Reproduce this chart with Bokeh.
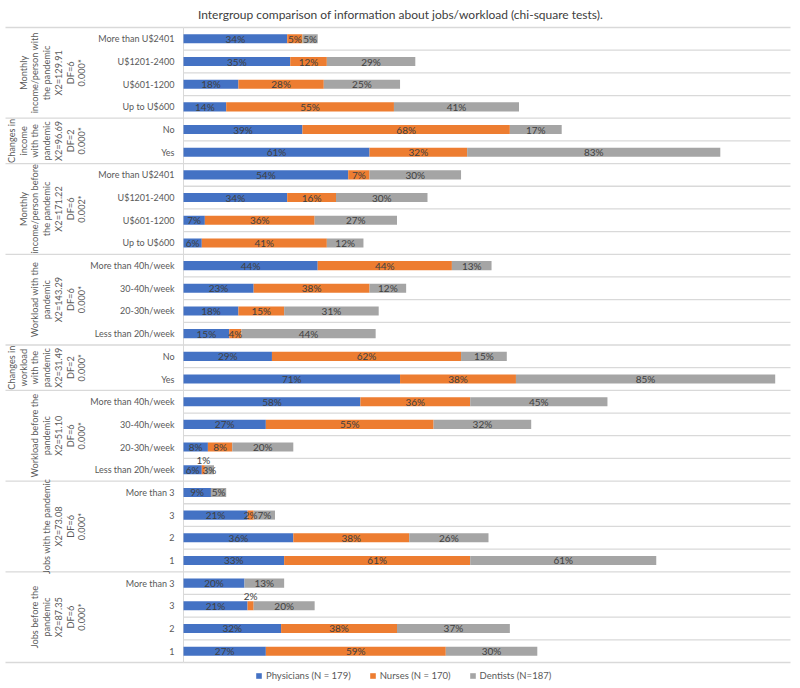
import numpy as np
from bokeh.plotting import figure
from bokeh.models import Range1d, ColumnDataSource, Legend, LegendItem
from bokeh.core.properties import value
from bokeh.embed import file_html
from bokeh.resources import INLINE

title_text = "Intergroup comparison of information about jobs/workload (chi-square tests)."

group_labels = [
    "Monthly\nincome/person with\nthe pandemic\nX2=129.91\nDF=6\n0.000*",
    "Changes in\nincome\nwith the\npandemic\nX2=96.69\nDF=2\n0.000*",
    "Monthly\nincome/person before\nthe pandemic\nX2=171.22\nDF=6\n0.002*",
    "Workload with the\npandemic\nX2=143.29\nDF=6\n0.000*",
    "Changes in\nworkload\nwith the\npandemic\nX2=31.49\nDF=2\n0.000*",
    "Workload before the\npandemic\nX2=51.10\nDF=6\n0.000*",
    "Jobs with the pandemic\nX2=73.08\nDF=6\n0.000*",
    "Jobs before the\npandemic\nX2=87.35\nDF=6\n0.000*",
]
group_sizes = [4, 2, 4, 4, 2, 4, 4, 4]

# categories, top to bottom
categories = [
    "More than U$2401", "U$1201-2400", "U$601-1200", "Up to U$600",
    "No", "Yes",
    "More than U$2401", "U$1201-2400", "U$601-1200", "Up to U$600",
    "More than 40h/week", "30-40h/week", "20-30h/week", "Less than 20h/week",
    "No", "Yes",
    "More than 40h/week", "30-40h/week", "20-30h/week", "Less than 20h/week",
    "More than 3", "3", "2", "1",
    "More than 3", "3", "2", "1",
]
physicians = [34, 35, 18, 14, 39, 61, 54, 34, 7, 6, 44, 23, 18, 15, 29, 71,
              58, 27, 8, 6, 9, 21, 36, 33, 20, 21, 32, 27]
nurses = [5, 12, 28, 55, 68, 32, 7, 16, 36, 41, 44, 38, 15, 4, 62, 38,
          36, 55, 8, 1, 0, 2, 38, 61, 0, 2, 38, 59]
dentists = [5, 29, 25, 41, 17, 83, 30, 30, 27, 12, 13, 12, 31, 44, 15, 85,
            45, 32, 20, 3, 5, 7, 26, 61, 13, 20, 37, 30]

series_names = ["Physicians (N = 179)", "Nurses (N = 170)", "Dentists (N=187)"]
series_colors = ["#4472C4", "#ED7D31", "#A5A5A5"]

# labels drawn above their bar (row index, series index)
labels_above = [(19, 1), (25, 1)]

FONT = "Lato"
n_rows = len(categories)
PXX = 3.05      # px per percent
PXY = 22.68     # px per row
W, H = 800, 688
x0_px = 183
x_start, x_end = -x0_px / PXX, (W - x0_px) / PXX
grid_end = (790 - x0_px) / PXX
sep_start = (5 - x0_px) / PXX
top_px, bot_px = 27, 662
y_end = n_rows + top_px / PXY
y_start = -(H - bot_px) / PXY

p = figure(width=W, height=H, output_backend="svg", toolbar_location=None,
           x_range=Range1d(x_start, x_end), y_range=Range1d(y_start, y_end),
           x_axis_location=None, y_axis_location=None, min_border=0)
p.title.visible = False
p.outline_line_color = None
p.grid.visible = False

centers = np.array([n_rows - i - 0.5 for i in range(n_rows)])

# gridlines at every row boundary (plot area)
bounds = np.arange(n_rows + 1)
p.segment(x0=np.zeros(len(bounds)), x1=np.full(len(bounds), grid_end),
          y0=bounds, y1=bounds, line_color="#D9D9D9", line_width=1.3)
# group separators across the label area
gb = n_rows - np.concatenate([[0], np.cumsum(group_sizes)])
p.segment(x0=np.full(len(gb), sep_start), x1=np.zeros(len(gb)),
          y0=gb, y1=gb, line_color="#D9D9D9", line_width=1.3)
# vertical axis line
p.segment(x0=[0], x1=[0], y0=[0], y1=[n_rows], line_color="#D9D9D9", line_width=1)

series = [np.array(physicians, float), np.array(nurses, float), np.array(dentists, float)]
left = np.zeros(n_rows)
renderers = []
lab_x, lab_y, lab_t = [], [], []
for si, vals in enumerate(series):
    right = left + vals
    src = ColumnDataSource(dict(y=centers, left=left, right=right))
    r = p.hbar(y="y", left="left", right="right", height=0.4, source=src,
               fill_color=series_colors[si], line_color=None)
    renderers.append(r)
    for i in range(n_rows):
        if vals[i] <= 0:
            continue
        yy = centers[i]
        if (i, si) in labels_above:
            yy = centers[i] + 0.43
        lab_x.append(left[i] + vals[i] / 2)
        lab_y.append(yy)
        lab_t.append(f"{int(vals[i])}%")
    left = right

p.text(x=lab_x, y=lab_y, text=lab_t, text_align="center", text_baseline="middle",
       text_font=value(FONT), text_font_size="10px", text_color="#404040")

# category labels
p.text(x=np.full(n_rows, (174 - x0_px) / PXX), y=centers, text=categories,
       text_align="right", text_baseline="middle", text_font=value(FONT),
       text_font_size="9px", text_color="#595959")

# group labels (rotated)
gcent = [(gb[k] + gb[k + 1]) / 2 for k in range(len(group_sizes))]
p.text(x=np.full(len(gcent), (87 - x0_px) / PXX), y=gcent, text=group_labels,
       angle=np.pi / 2, text_align="center", text_baseline="bottom",
       text_font=value(FONT), text_font_size="9.2px", text_color="#595959",
       text_line_height=1.07)

# title
p.text(x=[(400 - x0_px) / PXX], y=[y_end - 14 / PXY], text=[title_text],
       text_align="center", text_baseline="middle", text_font=value(FONT),
       text_font_size="12px", text_color="#404040")

legend = Legend(items=[LegendItem(label=series_names[k], renderers=[renderers[k]])
                       for k in range(3)],
                orientation="horizontal", location=(255, 7),
                background_fill_alpha=0, border_line_color=None,
                glyph_width=7, glyph_height=7, label_height=10, label_standoff=4,
                spacing=18, padding=0, margin=0,
                label_text_font=FONT, label_text_font_size="9.5px",
                label_text_color="#595959")
p.add_layout(legend)

open("out.html", "w").write(file_html(p, INLINE))
